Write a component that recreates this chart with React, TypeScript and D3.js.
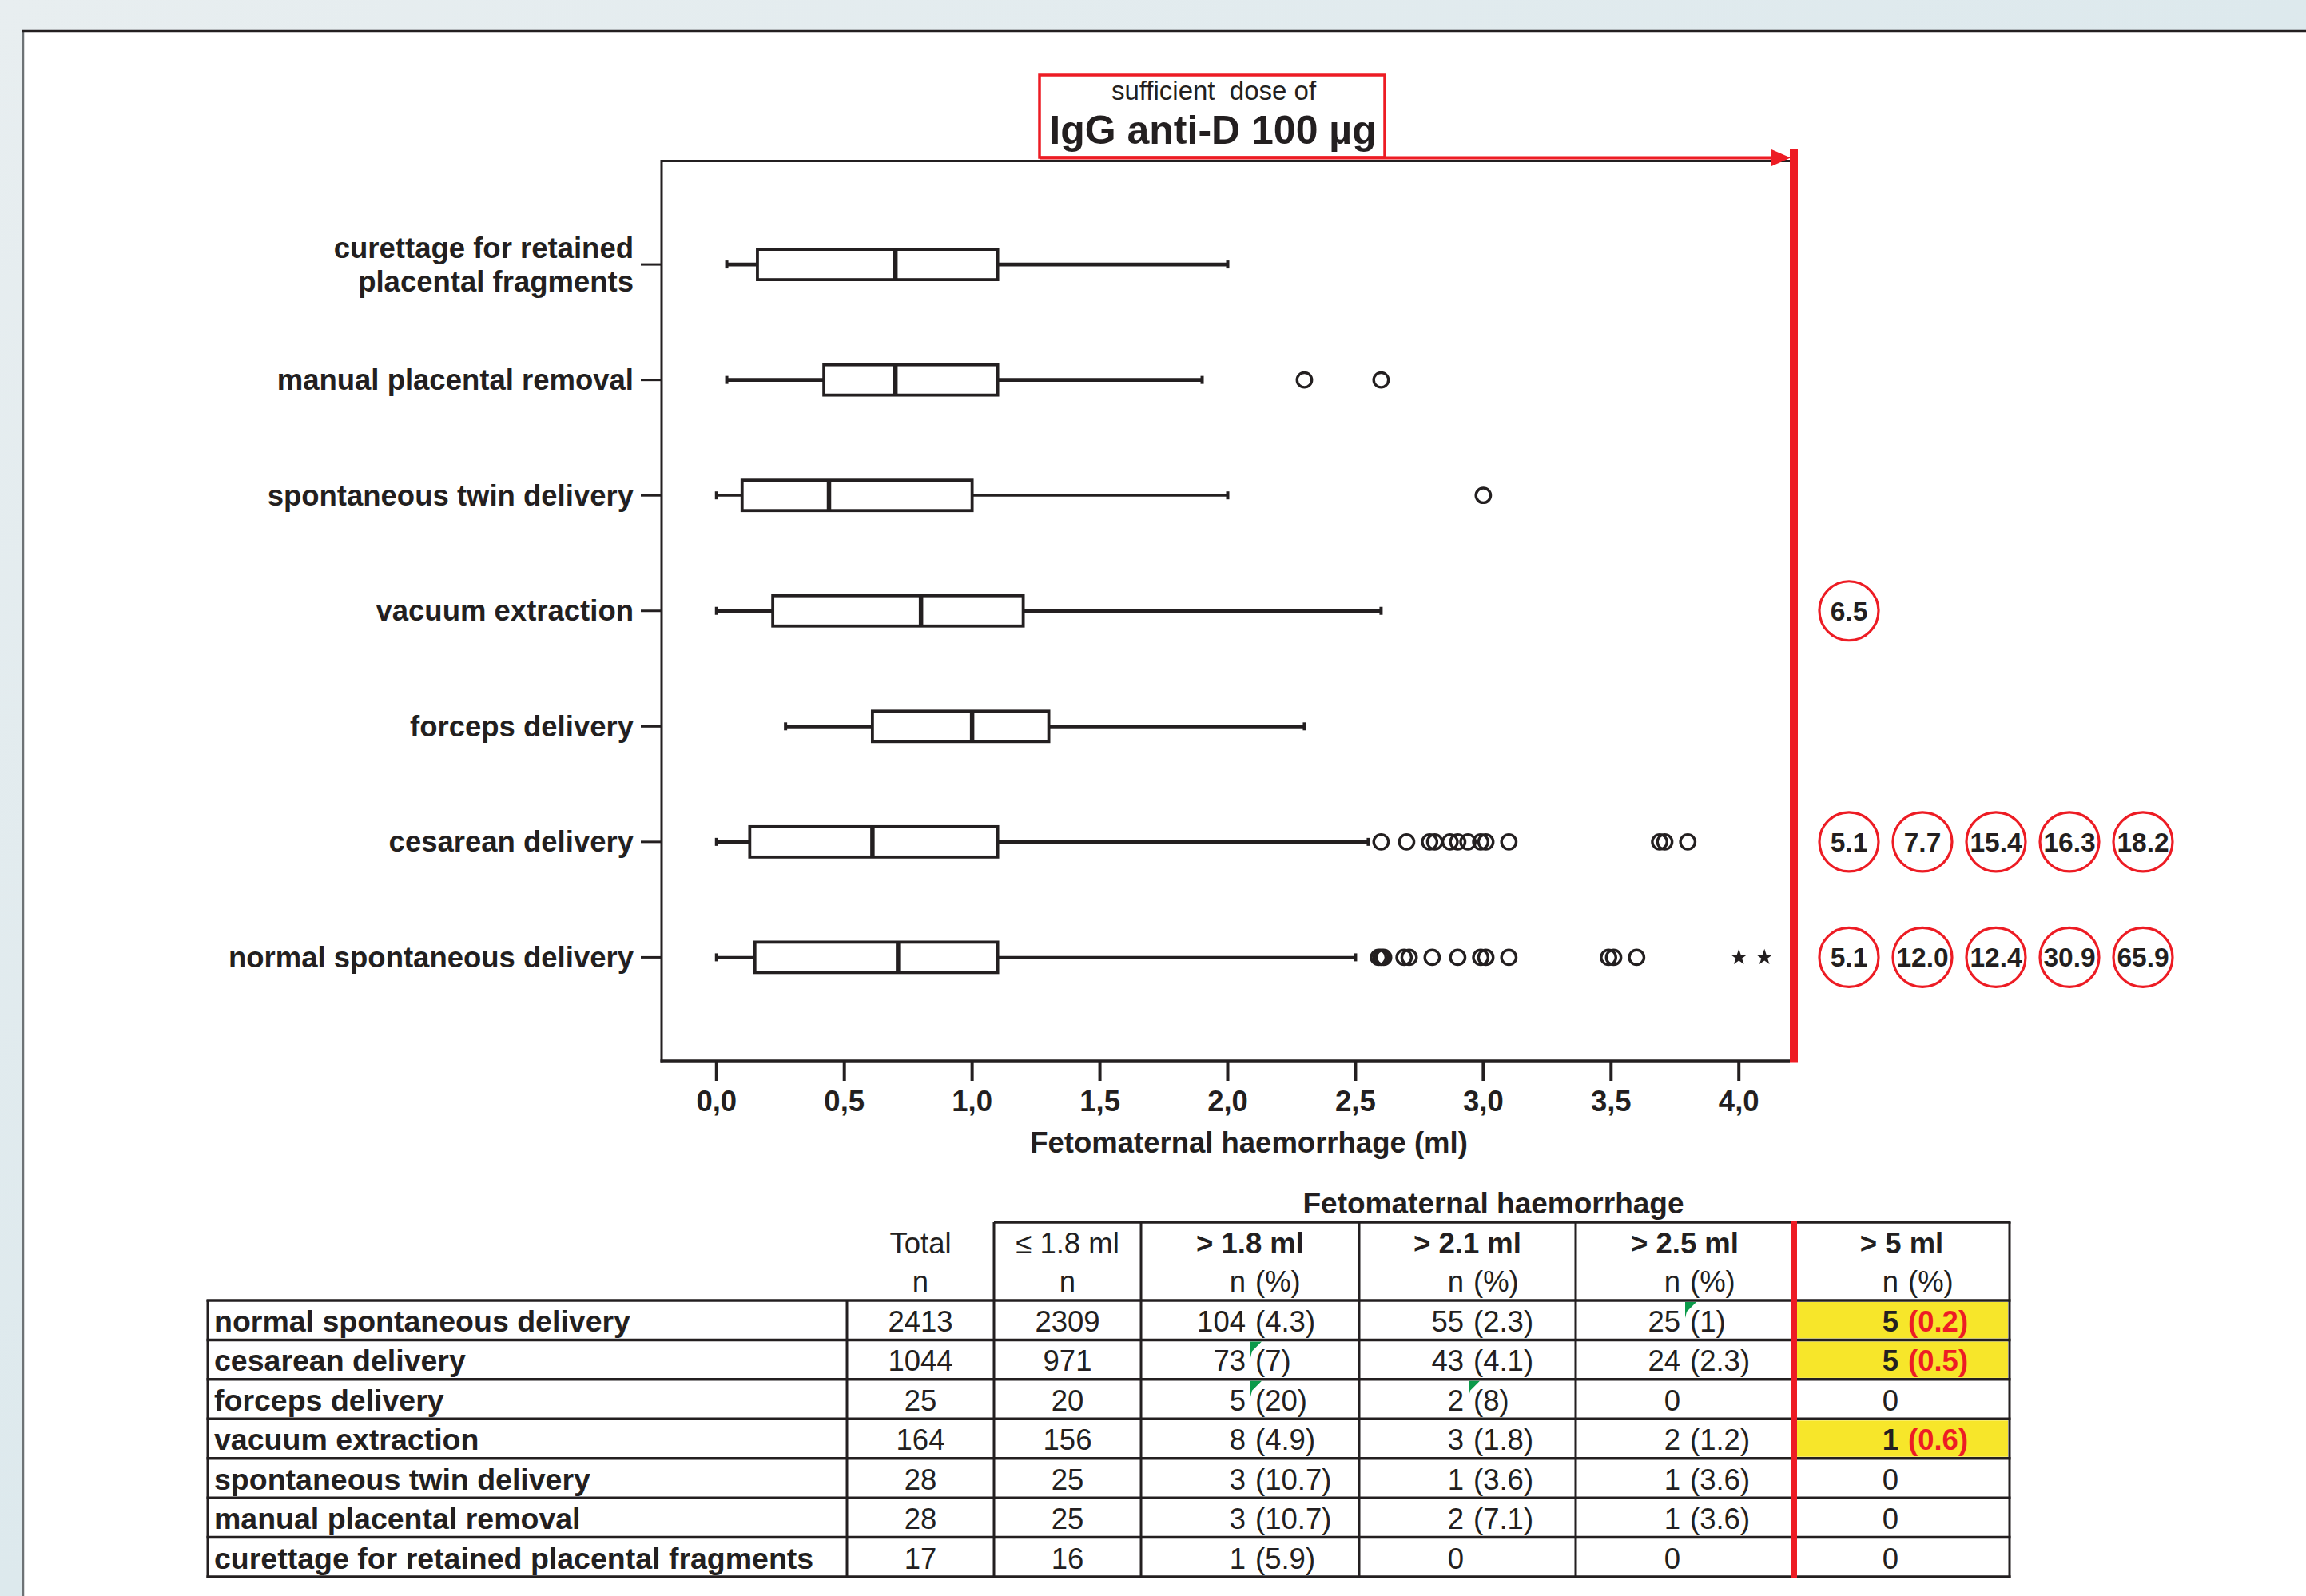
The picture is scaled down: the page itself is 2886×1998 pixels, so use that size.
import React from "react";
import * as d3 from "d3";

// box plot categories, top to bottom
const categories = [
  "curettage for retained placental fragments",
  "manual placental removal",
  "spontaneous twin delivery",
  "vacuum extraction",
  "forceps delivery",
  "cesarean delivery",
  "normal spontaneous delivery",
];

// five-number summaries (ml), same order as categories
const whiskerLow = [0.04, 0.04, 0.0, 0.0, 0.27, 0.0, 0.0];
const q1 = [0.16, 0.42, 0.1, 0.22, 0.61, 0.13, 0.15];
const median = [0.7, 0.7, 0.44, 0.8, 1.0, 0.61, 0.71];
const q3 = [1.1, 1.1, 1.0, 1.2, 1.3, 1.1, 1.1];
const whiskerHigh = [2.0, 1.9, 2.0, 2.6, 2.3, 2.55, 2.5];

const outliers = [
  [],
  [2.3, 2.6],
  [3.0],
  [],
  [],
  [2.6, 2.7, 2.79, 2.81, 2.87, 2.9, 2.94, 2.99, 3.01, 3.1, 3.69, 3.71, 3.8],
  [2.59, 2.6, 2.61, 2.69, 2.71, 2.8, 2.9, 2.99, 3.01, 3.1, 3.49, 3.51, 3.6],
];
const extremes = [[], [], [], [], [], [], [4.0, 4.1]];

// values beyond the axis (> 5 ml), written in red circles
const offScaleRows = ["vacuum extraction", "cesarean delivery", "normal spontaneous delivery"];
const offScaleValues = [["6.5"], ["5.1", "7.7", "15.4", "16.3", "18.2"], ["5.1", "12.0", "12.4", "30.9", "65.9"]];

const xTicks = [0, 0.5, 1, 1.5, 2, 2.5, 3, 3.5, 4];

// table
const tableRows = [
  "normal spontaneous delivery",
  "cesarean delivery",
  "forceps delivery",
  "vacuum extraction",
  "spontaneous twin delivery",
  "manual placental removal",
  "curettage for retained placental fragments",
];
const totalN = [2413, 1044, 25, 164, 28, 28, 17];
const le18N = [2309, 971, 20, 156, 25, 25, 16];
const thresholds = ["> 1.8 ml", "> 2.1 ml", "> 2.5 ml", "> 5 ml"];
const gt18N = [104, 73, 5, 8, 3, 3, 1];
const gt18Pct = ["4.3", "7", "20", "4.9", "10.7", "10.7", "5.9"];
const gt21N = [55, 43, 2, 3, 1, 2, 0];
const gt21Pct = ["2.3", "4.1", "8", "1.8", "3.6", "7.1", null];
const gt25N = [25, 24, 0, 2, 1, 1, 0];
const gt25Pct = ["1", "2.3", null, "1.2", "3.6", "3.6", null];
const gt5N = [5, 5, 0, 1, 0, 0, 0];
const gt5Pct = ["0.2", "0.5", null, "0.6", null, null, null];
// cells carrying a small green comment flag: [row, threshold column]
const commentCells = [[1, 0], [2, 0], [2, 1], [0, 2]];

const FONT = "'Liberation Sans', Arial, Helvetica, sans-serif";
const INK = "#231f20";
const RED = "#ed1c24";
const YELLOW = "#f7e62a";
const GREEN = "#0b9a4a";

// thinner whiskers on some boxes, as in the original
const thinWhiskers = ["spontaneous twin delivery", "normal spontaneous delivery"];

const fmtTick = (v: number) => d3.format(".1f")(v).replace(".", ",");

const splitLabel = (s: string) =>
  s === "curettage for retained placental fragments" ? ["curettage for retained", "placental fragments"] : [s];

export default function App() {
  const W = 2886;
  const H = 1998;

  const x = d3.scaleLinear().domain([-0.215, 4.215]).range([828, 2245]);
  const y = d3.scalePoint<string>().domain(categories).range([201, 1328.5]).padding(0.9);
  const axisY = 1328.5;
  const boxH = 38;

  const circleX = d3.scaleLinear().domain([0, 4]).range([2314, 2682]);

  // table geometry
  const colEdges = [260, 1060, 1244, 1428, 1701, 1972, 2245, 2515];
  const rowY = d3.scaleBand<string>().domain(tableRows).range([1628, 1974]);
  const rh = rowY.bandwidth();
  const tableBottom = 1976;
  const nCols = [
    { n: gt18N, p: gt18Pct },
    { n: gt21N, p: gt21Pct },
    { n: gt25N, p: gt25Pct },
    { n: gt5N, p: gt5Pct },
  ];
  const nEnd = (k: number) => colEdges[k + 3] + 131;
  const star = d3.symbol().type(d3.symbolStar).size(130)();

  return (
    <svg width={W} height={H} style={{ position: "absolute", left: 0, top: 0 }} fontFamily={FONT}>
      <defs>
        <linearGradient id="bg" x1="0" y1="0" x2="1" y2="1">
          <stop offset="0" stopColor="#e8eef0" />
          <stop offset="0.5" stopColor="#dde9ed" />
          <stop offset="1" stopColor="#d3e4ea" />
        </linearGradient>
      </defs>
      <rect x={0} y={0} width={W} height={H} fill="url(#bg)" />
      <rect x={29} y={39} width={W - 29} height={H - 39} fill="#ffffff" />
      <line x1={29} x2={29} y1={38} y2={H} stroke="#6d7275" strokeWidth={2.5} />
      <line x1={28} x2={W} y1={38.5} y2={38.5} stroke={INK} strokeWidth={3.5} />

      {/* title box */}
      <rect x={1301} y={94} width={432} height={103} fill="#fff" stroke={RED} strokeWidth={3.5} />
      <text x={1519} y={125} fontSize={33} textAnchor="middle" fill={INK} style={{ whiteSpace: "pre" }}>
        {"sufficient  dose of"}
      </text>
      <text x={1518} y={180} fontSize={50} fontWeight="bold" textAnchor="middle" fill={INK}>
        IgG anti-D 100 µg
      </text>

      {/* frame */}
      <line x1={828} x2={2240} y1={201.5} y2={201.5} stroke={INK} strokeWidth={3} />
      <line x1={828} x2={828} y1={200} y2={axisY + 2} stroke={INK} strokeWidth={3} />
      <line x1={826.5} x2={2240} y1={axisY} y2={axisY} stroke={INK} strokeWidth={4.5} />

      {/* red arrow + limit line */}
      <line x1={1301} x2={2222} y1={197.5} y2={197.5} stroke={RED} strokeWidth={4} />
      <polygon points="2217,187 2241,197.5 2217,208" fill={RED} />
      <rect x={2240} y={187} width={10} height={axisY + 2 - 187} fill={RED} />

      {/* x axis */}
      {xTicks.map((t) => (
        <g key={t}>
          <line x1={x(t)} x2={x(t)} y1={axisY} y2={1353} stroke={INK} strokeWidth={4} />
          <text x={x(t)} y={1391} fontSize={36.5} fontWeight="bold" textAnchor="middle" fill={INK}>
            {fmtTick(t)}
          </text>
        </g>
      ))}
      <text x={1563} y={1443} fontSize={36.5} fontWeight="bold" textAnchor="middle" fill={INK}>
        Fetomaternal haemorrhage (ml)
      </text>

      {/* y axis */}
      {categories.map((c) => {
        const cy = y(c)!;
        const lines = splitLabel(c);
        return (
          <g key={c}>
            <line x1={802} x2={828} y1={cy} y2={cy} stroke={INK} strokeWidth={3} />
            <text x={793} y={cy} fontSize={36.5} fontWeight="bold" textAnchor="end" fill={INK}>
              {lines.map((l, j) => (
                <tspan key={j} x={793} dy={j === 0 ? (lines.length === 1 ? 12.6 : -8.4) : 42}>
                  {l}
                </tspan>
              ))}
            </text>
          </g>
        );
      })}

      {/* boxes */}
      {categories.map((c, i) => {
        const cy = y(c)!;
        const ww = thinWhiskers.includes(c) ? 3.2 : 4.8;
        return (
          <g key={c}>
            <line x1={x(whiskerLow[i])} x2={x(q1[i])} y1={cy} y2={cy} stroke={INK} strokeWidth={ww} />
            <line x1={x(q3[i])} x2={x(whiskerHigh[i])} y1={cy} y2={cy} stroke={INK} strokeWidth={ww} />
            <line x1={x(whiskerLow[i])} x2={x(whiskerLow[i])} y1={cy - 5} y2={cy + 5} stroke={INK} strokeWidth={4} />
            <line x1={x(whiskerHigh[i])} x2={x(whiskerHigh[i])} y1={cy - 5} y2={cy + 5} stroke={INK} strokeWidth={4} />
            <rect
              x={x(q1[i])}
              y={cy - boxH / 2}
              width={x(q3[i]) - x(q1[i])}
              height={boxH}
              fill="#fff"
              stroke={INK}
              strokeWidth={3.8}
            />
            <line x1={x(median[i])} x2={x(median[i])} y1={cy - boxH / 2} y2={cy + boxH / 2} stroke={INK} strokeWidth={5.5} />
            {outliers[i].map((v, j) => (
              <circle key={j} cx={x(v)} cy={cy} r={9.2} fill="none" stroke={INK} strokeWidth={3.4} />
            ))}
            {extremes[i].map((v, j) => (
              <path key={"s" + j} d={star!} transform={`translate(${x(v)},${cy})`} fill={INK} />
            ))}
          </g>
        );
      })}

      {/* off-scale values */}
      {offScaleRows.map((r, i) => (
        <g key={r}>
          {offScaleValues[i].map((v, j) => (
            <g key={j} transform={`translate(${circleX(j)},${y(r)})`}>
              <circle r={37} fill="#fff" stroke={RED} strokeWidth={3.2} />
              <text y={12} fontSize={33.5} fontWeight="bold" textAnchor="middle" fill={INK}>
                {v}
              </text>
            </g>
          ))}
        </g>
      ))}

      {/* table */}
      <text x={1869} y={1519} fontSize={37} fontWeight="bold" textAnchor="middle" fill={INK}>
        Fetomaternal haemorrhage
      </text>

      {tableRows.map((r, i) =>
        gt5Pct[i] ? (
          <rect key={"hl" + r} x={colEdges[6] + 4} y={rowY(r)! + 2} width={colEdges[7] - colEdges[6] - 6} height={rh - 4} fill={YELLOW} />
        ) : null
      )}

      {/* header */}
      <text x={(colEdges[1] + colEdges[2]) / 2} y={1569} fontSize={36.5} textAnchor="middle" fill={INK}>Total</text>
      <text x={(colEdges[2] + colEdges[3]) / 2} y={1569} fontSize={36.5} textAnchor="middle" fill={INK}>≤ 1.8 ml</text>
      <text x={(colEdges[1] + colEdges[2]) / 2} y={1617} fontSize={36.5} textAnchor="middle" fill={INK}>n</text>
      <text x={(colEdges[2] + colEdges[3]) / 2} y={1617} fontSize={36.5} textAnchor="middle" fill={INK}>n</text>
      {thresholds.map((t, k) => (
        <g key={t}>
          <text x={(colEdges[k + 3] + colEdges[k + 4]) / 2} y={1569} fontSize={36.5} fontWeight="bold" textAnchor="middle" fill={INK}>
            {t}
          </text>
          <text x={nEnd(k)} y={1617} fontSize={36.5} textAnchor="end" fill={INK}>n</text>
          <text x={nEnd(k) + 12} y={1617} fontSize={36.5} textAnchor="start" fill={INK}>(%)</text>
        </g>
      ))}

      {/* body */}
      {tableRows.map((r, i) => {
        const base = rowY(r)! + 39;
        return (
          <g key={r}>
            <text x={268} y={base} fontSize={37.5} fontWeight="bold" fill={INK}>{r}</text>
            <text x={(colEdges[1] + colEdges[2]) / 2} y={base} fontSize={36.5} textAnchor="middle" fill={INK}>{totalN[i]}</text>
            <text x={(colEdges[2] + colEdges[3]) / 2} y={base} fontSize={36.5} textAnchor="middle" fill={INK}>{le18N[i]}</text>
            {nCols.map((col, k) => {
              const hl = k === 3 && col.p[i] !== null;
              return (
                <g key={k}>
                  <text x={nEnd(k)} y={base} fontSize={36.5} textAnchor="end" fontWeight={hl ? "bold" : "normal"} fill={INK}>
                    {col.n[i]}
                  </text>
                  {col.p[i] !== null && (
                    <text x={nEnd(k) + 12} y={base} fontSize={36.5} fontWeight={hl ? "bold" : "normal"} fill={hl ? RED : INK}>
                      ({col.p[i]})
                    </text>
                  )}
                </g>
              );
            })}
          </g>
        );
      })}

      {/* grid */}
      <line x1={colEdges[2]} x2={colEdges[7] + 1.5} y1={1530} y2={1530} stroke={INK} strokeWidth={3.5} />
      {[...tableRows.map((r) => rowY(r)!), 1974].map((yy, j) => (
        <line key={"h" + j} x1={colEdges[0] - 1.5} x2={colEdges[7] + 1.5} y1={yy} y2={yy} stroke={INK} strokeWidth={3.5} />
      ))}
      {colEdges.map((cx, j) =>
        j === 6 ? null : (
          <line key={"v" + j} x1={cx} x2={cx} y1={j < 2 ? 1628 : 1530} y2={tableBottom} stroke={INK} strokeWidth={3} />
        )
      )}
      <rect x={2241} y={1529} width={8} height={tableBottom - 1529} fill={RED} />

      {commentCells.map(([ri, k], j) => {
        const fx = nEnd(k) + 6;
        const fy = rowY(tableRows[ri])! + 2;
        return <polygon key={"c" + j} points={`${fx},${fy} ${fx + 14},${fy} ${fx + 2},${fy + 12} ${fx},${fy + 20}`} fill={GREEN} />;
      })}
    </svg>
  );
}
